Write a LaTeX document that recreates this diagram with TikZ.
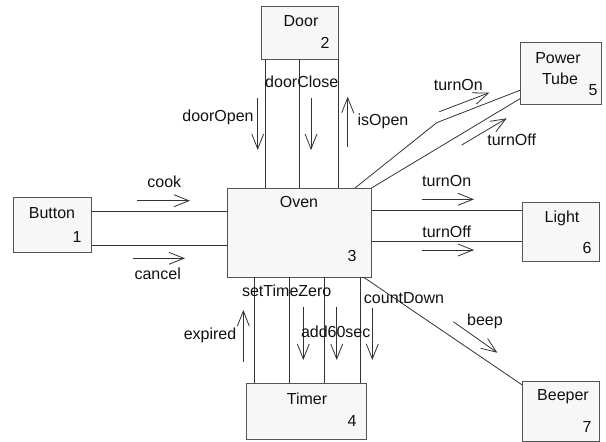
\documentclass[tikz,border=0pt]{standalone}
\usepackage{fontspec}
\setmainfont{Liberation Sans}
\usetikzlibrary{arrows.meta}
\definecolor{boxfill}{HTML}{F7F7F7}
\definecolor{boxline}{HTML}{555555}
\definecolor{conn}{HTML}{333333}
\definecolor{txt}{HTML}{111111}
\begin{document}
\begin{tikzpicture}[x=1pt,y=-1pt,
  box/.style={draw=boxline,fill=boxfill,line width=0.9pt,inner sep=0pt,outer sep=0pt},
  lbl/.style={text=txt,font=\fontsize{16}{18}\selectfont,inner sep=0pt},
  link/.style={draw=conn,line width=0.8pt},
  msg/.style={draw=conn,line width=0.8pt,-{Straight Barb[length=15pt,width=12pt]}}]
\useasboundingbox (0,0) rectangle (606,442);
% boxes
\node[box,minimum width=77pt,minimum height=53pt] (door) at (299.5,32.5) {};
\node[box,minimum width=144pt,minimum height=89pt] (oven) at (299.5,232.5) {};
\node[box,minimum width=78pt,minimum height=55pt] (button) at (52.5,225) {};
\node[box,minimum width=120pt,minimum height=56pt] (timer) at (306.7,411.3) {};
\node[box,minimum width=81pt,minimum height=62pt] (tube) at (561.2,73.9) {};
\node[box,minimum width=77pt,minimum height=59pt] (light) at (560.8,232.2) {};
\node[box,minimum width=77pt,minimum height=60pt] (beeper) at (560.8,411.7) {};
% box texts
\node[lbl] (tdoor) at (301,21) {Door};
\node[lbl] (ndoor) at (325,43) {2};
\node[lbl] (toven) at (299,202) {Oven};
\node[lbl] (noven) at (352,256) {3};
\node[lbl] (tbutton) at (52,213) {Button};
\node[lbl] (nbutton) at (77,237) {1};
\node[lbl] (ttimer) at (307,399) {Timer};
\node[lbl] (ntimer) at (352,421) {4};
\node[lbl] (ttube1) at (558,58) {Power};
\node[lbl] (ttube2) at (560,79) {Tube};
\node[lbl] (ntube) at (593,90) {5};
\node[lbl] (tlight) at (562,218) {Light};
\node[lbl] (nlight) at (587,248) {6};
\node[lbl] (tbeeper) at (563,397) {Beeper};
\node[lbl] (nbeeper) at (587,427) {7};
% links Door-Oven
\draw[link] (265.7,0 |- door.south) -- (265.7,0 |- oven.north);
\draw[link] (299,0 |- door.south) -- (299,0 |- oven.north);
\draw[link] (338,0 |- door.south) -- (338,0 |- oven.north);
% links Button-Oven
\draw[link] (button.east |- 0,211.7) -- (oven.west |- 0,211.7);
\draw[link] (button.east |- 0,245) -- (oven.west |- 0,245);
% links Oven-Timer
\draw[link] (254.7,0 |- oven.south) -- (254.7,0 |- timer.north);
\draw[link] (289.3,0 |- oven.south) -- (289.3,0 |- timer.north);
\draw[link] (324,0 |- oven.south) -- (324,0 |- timer.north);
\draw[link] (360,0 |- oven.south) -- (360,0 |- timer.north);
% links Oven-Light
\draw[link] (oven.east |- 0,210.7) -- (light.west |- 0,210.7);
\draw[link] (oven.east |- 0,241.7) -- (light.west |- 0,241.7);
% links Oven-Tube
\draw[link] (355,0 |- oven.north) -- (436.7,122.7) -- (tube.west |- 0,90);
\draw[link] (oven.north east) -- (tube.west |- 0,98.3);
% link Oven-Beeper
\draw[link] (363.3,0 |- oven.south) -- (beeper.west |- 0,385);
% messages
\draw[msg] (257.7,98.3) -- (257.7,150);
\node[lbl] (mdooropen) at (218,117) {doorOpen};
\draw[msg] (311,98.3) -- (311,150);
\node[lbl] (mdoorclose) at (301.7,81.7) {doorClose};
\draw[msg] (347.7,146.7) -- (347.7,96.7);
\node[lbl] (misopen) at (383,121.7) {isOpen};
\draw[msg] (136.7,200.7) -- (190,200.7);
\node[lbl] (mcook) at (164.3,181.7) {cook};
\draw[msg] (133.3,258.3) -- (185,258.3);
\node[lbl] (mcancel) at (157.7,273.3) {cancel};
\draw[msg] (439.3,111.7) -- (489.3,92.7);
\node[lbl] (mton1) at (458.3,85) {turnOn};
\draw[msg] (461.7,145) -- (506.7,118.3);
\node[lbl] (mtoff1) at (511.7,140) {turnOff};
\draw[msg] (421.7,199.3) -- (474,199.3);
\node[lbl] (mton2) at (446.7,180.7) {turnOn};
\draw[msg] (421.7,250) -- (474,250);
\node[lbl] (mtoff2) at (446.7,231.7) {turnOff};
\draw[msg] (453.3,321.7) -- (497.3,352.7);
\node[lbl] (mbeep) at (485,321.7) {beep};
\draw[msg] (243.3,361.7) -- (243.3,310);
\node[lbl] (mexpired) at (210,335) {expired};
\node[lbl] (msettz) at (286.7,290.7) {setTimeZero};
\draw[msg] (303.3,306.7) -- (303.3,360);
\draw[msg] (336.7,306.7) -- (336.7,360);
\node[lbl] (madd) at (335.7,332) {add60sec};
\draw[msg] (372.3,308) -- (372.3,360);
\node[lbl] (mcount) at (404,298) {countDown};
\end{tikzpicture}
\end{document}
